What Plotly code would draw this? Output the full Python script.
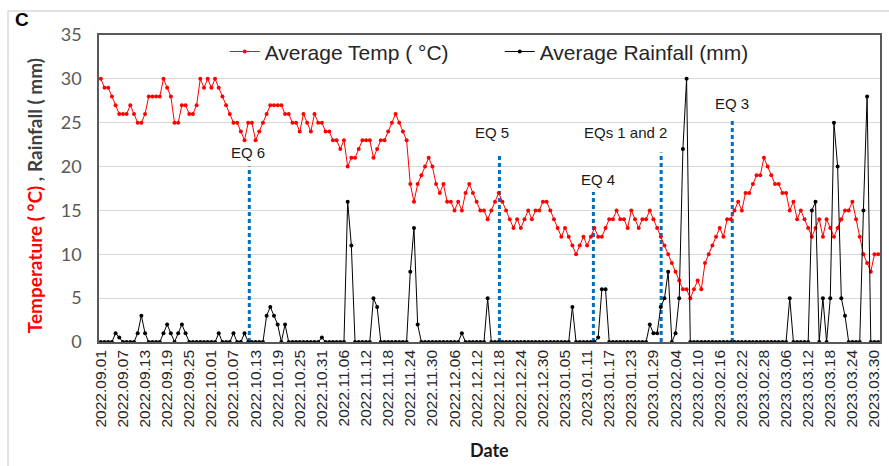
import plotly.graph_objects as go
import pandas as pd

# ---------------- data ----------------
dates = pd.date_range("2022-09-01", "2023-03-31", freq="D").strftime("%Y.%m.%d").tolist()

temp_sep = [30, 29, 29, 28, 27, 26, 26, 26, 27, 26, 25, 25, 26, 28, 28, 28, 28, 30, 29, 28,
            25, 25, 27, 27, 26, 26, 27, 30, 29, 30]
temp_oct = [29, 30, 29, 28, 27, 26, 25, 25, 24, 23, 25, 25, 23, 24, 25, 26, 27, 27, 27, 27,
            26, 26, 25, 25, 24, 26, 25, 24, 26, 25, 25]
temp_nov = [24, 24, 23, 23, 22, 23, 20, 21, 21, 22, 23, 23, 23, 21, 22, 23, 23, 24, 25, 26,
            25, 24, 23, 18, 16, 18, 19, 20, 21, 20]
temp_dec = [18, 17, 18, 16, 16, 15, 16, 15, 17, 18, 17, 16, 15, 15, 14, 15, 16, 17, 16, 15,
            14, 13, 14, 13, 14, 15, 14, 15, 15, 16, 16]
temp_jan = [15, 14, 13, 12, 13, 12, 11, 10, 11, 12, 11, 12, 13, 12, 12, 13, 14, 14, 15, 14,
            14, 13, 15, 14, 13, 14, 14, 15, 14, 13, 12]
temp_feb = [11, 10, 9, 8, 7, 6, 6, 5, 6, 7, 6, 9, 10, 11, 12, 13, 12, 14, 14, 15,
            16, 15, 17, 17, 18, 19, 19, 21]
temp_mar = [20, 19, 18, 18, 17, 17, 15, 16, 14, 15, 14, 13, 12, 13, 14, 12, 14, 13, 12, 13,
            14, 15, 15, 16, 14, 12, 10, 9, 8, 10, 10]

rain_sep = [0, 0, 0, 0, 1, 0.5, 0, 0, 0, 0, 1, 3, 1, 0, 0, 0, 0, 1, 2, 1,
            0, 1, 2, 1, 0, 0, 0, 0, 0, 0]
rain_oct = [0, 0, 1, 0, 0, 0, 1, 0, 0, 1, 0, 0, 0, 0, 0, 3, 4, 3, 2, 0,
            2, 0, 0, 0, 0, 0, 0, 0, 0, 0, 0.5]
rain_nov = [0, 0, 0, 0, 0, 0, 16, 11, 0, 0, 0, 0, 0, 5, 4, 0, 0, 0, 0, 0,
            0, 0, 0, 8, 13, 2, 0, 0, 0, 0]
rain_dec = [0, 0, 0, 0, 0, 0, 0, 1, 0, 0, 0, 0, 0, 0, 5, 0, 0, 0, 0, 0,
            0, 0, 0, 0, 0, 0, 0, 0, 0, 0, 0]
rain_jan = [0, 0, 0, 0, 0, 0, 4, 0, 0, 0, 0, 0, 0, 0.5, 6, 6, 0, 0, 0, 0,
            0, 0, 0, 0, 0, 0, 0, 2, 1, 1, 4]
rain_feb = [5, 8, 0, 1, 5, 22, 30, 0, 0, 0, 0, 0, 0, 0, 0, 0, 0, 0, 0, 0,
            0, 0, 0, 0, 0, 0, 0, 0]
rain_mar = [0, 0, 0, 0, 0, 0, 5, 0, 0, 0, 0, 0, 15, 16, 0, 5, 0, 5, 25, 20,
            5, 3, 0, 0, 0, 0, 15, 28, 0, 0, 0]

temp = temp_sep + temp_oct + temp_nov + temp_dec + temp_jan + temp_feb + temp_mar
rain = rain_sep + rain_oct + rain_nov + rain_dec + rain_jan + rain_feb + rain_mar
day_index = list(range(len(dates)))
tick_idx = day_index[::6]
tick_text = dates[::6]

eq_labels = ["EQ 6", "EQ 5", "EQ 4", "EQs 1 and 2", "EQ 3"]
eq_day = [40.3, 108.2, 133.7, 152.1, 171.4]
eq_top = [20, 21.2, 17.1, 21.6, 25.4]
eq_label_x = [39.9, 106.2, 135.0, 142.4, 171.3]
eq_label_y = [21.6, 23.9, 18.5, 23.9, 27.2]

# ---------------- figure ----------------
fig = go.Figure()

for d, top in zip(eq_day, eq_top):
    fig.add_trace(go.Scatter(x=[d, d], y=[0, top], mode="lines",
                             line=dict(color="#0070C0", width=3, dash="4px,3px"),
                             showlegend=False, hoverinfo="skip", cliponaxis=False))

fig.add_trace(go.Scatter(x=day_index, y=temp, mode="lines+markers",
                         name="Average Temp ( °C)",
                         line=dict(color="#FF0000", width=1),
                         marker=dict(size=4, color="#FF0000"), cliponaxis=False))
fig.add_trace(go.Scatter(x=day_index, y=rain, mode="lines+markers",
                         name="Average Rainfall (mm)",
                         line=dict(color="#000000", width=1),
                         marker=dict(size=4, color="#000000"), cliponaxis=False))

annotations = []
for lab, lx, ly in zip(eq_labels, eq_label_x, eq_label_y):
    annotations.append(dict(x=lx, y=ly, xref="x", yref="y", text=lab, showarrow=False,
                            font=dict(family="Liberation Sans", size=15, color="#1a1a1a"),
                            xanchor="center", yanchor="middle"))

annotations.append(dict(x=-0.0986, y=1.05, xref="paper", yref="paper", text="<b>C</b>",
                        showarrow=False, font=dict(family="Liberation Sans", size=19, color="#000"),
                        xanchor="center", yanchor="middle"))
annotations.append(dict(x=-0.0832, y=0.475, xref="paper", yref="paper",
                        text='<b><span style="color:#FF0000">Temperature ( °C)</span> , Rainfall ( mm)</b>',
                        textangle=-90, showarrow=False,
                        font=dict(family="Lato", size=19, color="#404040"),
                        xanchor="center", yanchor="middle"))
annotations.append(dict(x=0.5006, y=-0.352, xref="paper", yref="paper", text="<b>Date</b>",
                        showarrow=False, font=dict(family="Lato", size=18, color="#1a1a1a"),
                        xanchor="center", yanchor="middle"))

shapes = [
    dict(type="line", xref="paper", yref="paper", x0=-0.1165, x1=-0.1165, y0=1.078, y1=-0.45,
         line=dict(color="#d9d9d9", width=1.5)),
    dict(type="line", xref="paper", yref="paper", x0=-0.1165, x1=1.03, y0=1.078, y1=1.078,
         line=dict(color="#d9d9d9", width=1.5)),
]

fig.update_layout(
    width=889, height=466,
    margin=dict(l=99, r=9, t=35, b=124),
    paper_bgcolor="white", plot_bgcolor="white",
    showlegend=True,
    legend=dict(orientation="h", x=0.161, xanchor="left", y=0.945, yanchor="middle",
                font=dict(family="Liberation Sans", size=21, color="#262626"),
                bgcolor="rgba(0,0,0,0)", entrywidth=230, entrywidthmode="pixels"),
    annotations=annotations,
    shapes=shapes,
    xaxis=dict(range=[-0.5, 211.5], tickmode="array", tickvals=tick_idx, ticktext=tick_text,
               tickangle=-90, tickfont=dict(family="Liberation Sans", size=15.5, color="#262626"),
               showgrid=False, zeroline=False, showline=True, mirror=True, automargin=False,
               linecolor="#595959", linewidth=1.5, ticks=""),
    yaxis=dict(range=[0, 35], dtick=5, tickfont=dict(family="Lato", size=18, color="#595959"),
               gridcolor="#d9d9d9", gridwidth=1, zeroline=False, showline=True, mirror=True,
               automargin=False,
               linecolor="#595959", linewidth=1.5, ticks="", ticklabelstandoff=12),
)

fig.write_html("out.html", config={"displayModeBar": False},
               post_script="document.body.style.margin='0px';")
